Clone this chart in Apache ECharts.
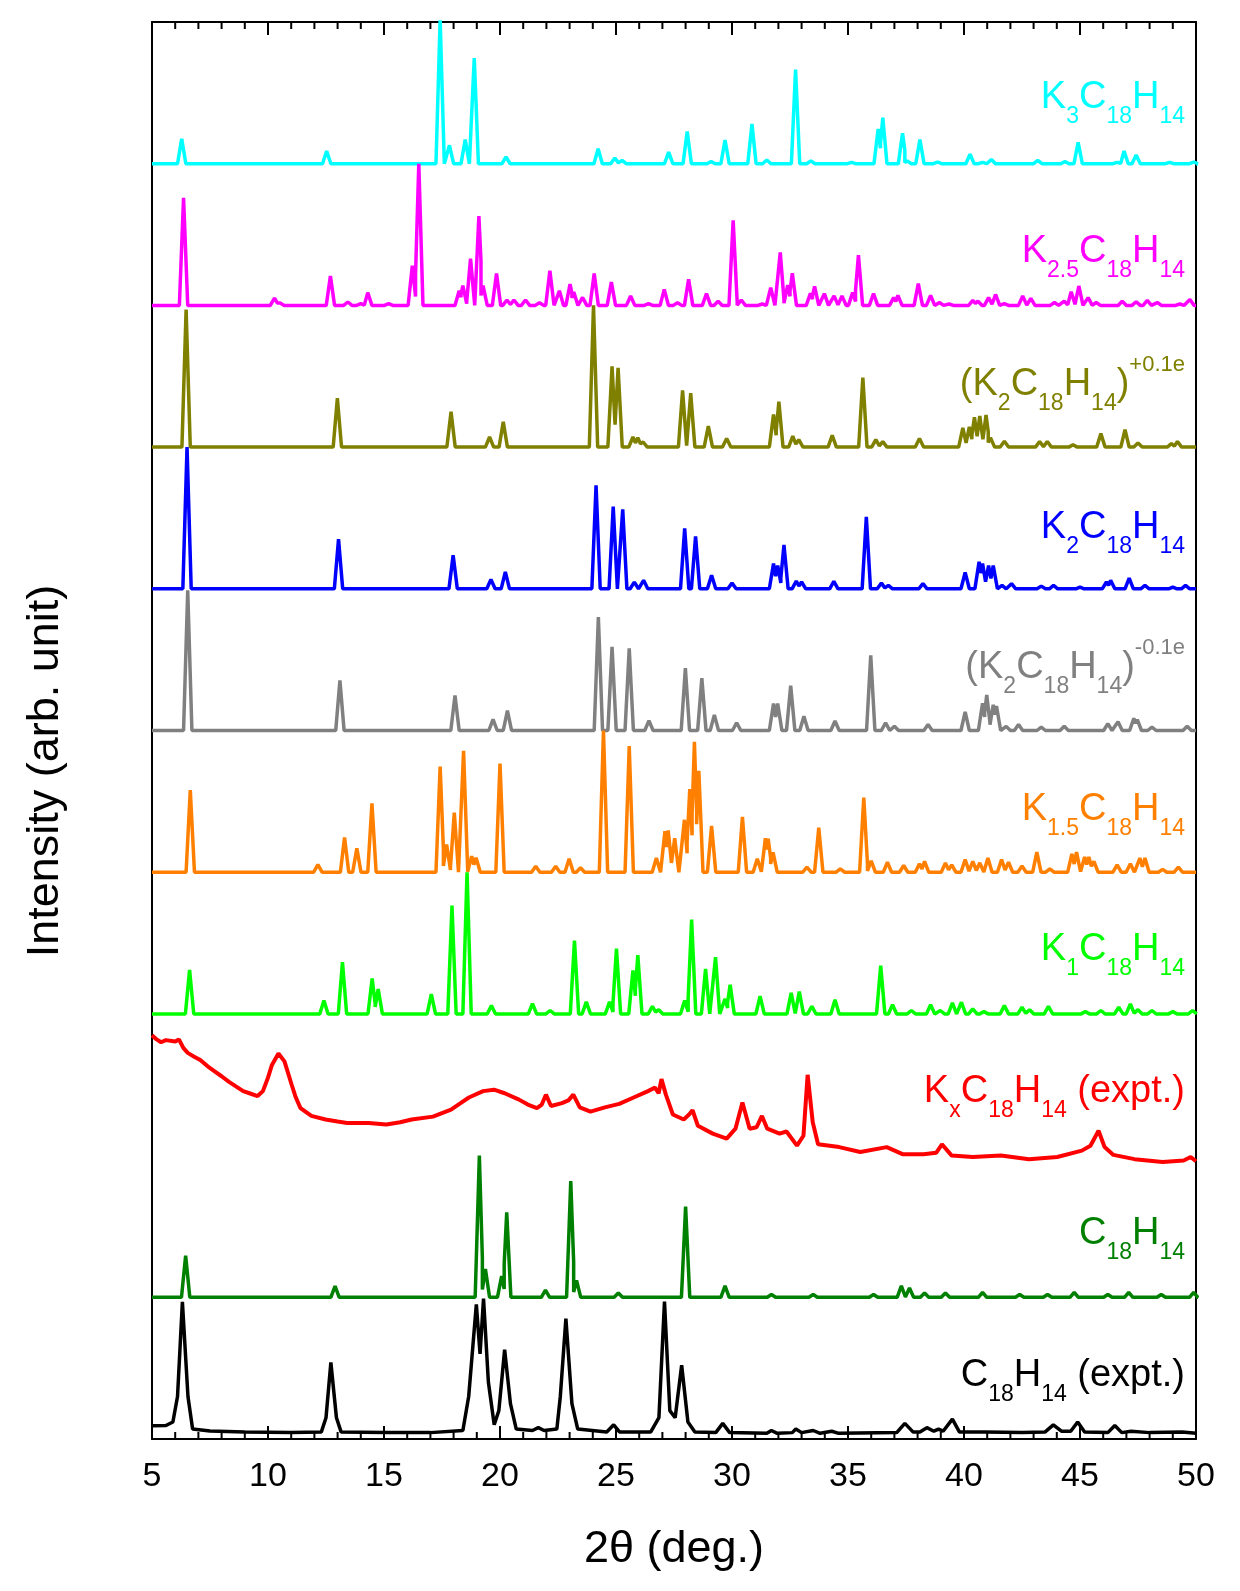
<!DOCTYPE html>
<html>
<head>
<meta charset="utf-8">
<script src="https://cdn.jsdelivr.net/npm/echarts@6/dist/echarts.min.js"></script>
<style>
html, body { margin: 0; padding: 0; background: #fff; }
#chart { width: 1240px; height: 1591px; }
</style>
</head>
<body>
<div id="chart"></div>
<script>
// x axis (2theta) range and tick steps
const xMin = 5
const xMax = 50
const xStep = 5
const minorStep = 1
const yMin = 0
const yMax = 1000

// peaks: [2theta, relative height]
const k3Peaks = [[6.28, 17.6], [12.53, 9], [17.42, 102], [17.82, 13], [18.5, 17], [18.89, 74.6], [20.26, 4.7], [24.23, 10.6], [24.95, 4], [25.26, 2.4], [27.27, 8.2], [28.07, 22.8], [29.1, 1.5], [29.7, 16.7], [30.86, 28], [31.5, 2.6], [32.74, 66.5], [33.4, 2], [35.15, 1], [36.3, 24.6], [36.5, 32.5], [37.35, 21.5], [37.55, 2], [38.1, 17], [38.86, 1.2], [40.26, 6.7], [40.8, 1], [41.18, 3], [43.18, 2.4], [44.35, 1.5], [44.92, 15], [46.6, 1], [46.9, 9], [47.42, 6.2], [48.86, 1], [49.9, 1.2]]
const k25Peaks = [[6.36, 76], [10.28, 5.2], [10.52, 1.7], [12.69, 20.7], [13.44, 2.4], [14.0, 1.2], [14.3, 9], [15.2, 1.2], [16.22, 28], [16.5, 100], [18.24, 10.3], [18.4, 14], [18.73, 33], [19.09, 63], [19.27, 14], [19.85, 22.6], [20.3, 3.8], [20.6, 3.8], [21.1, 3.8], [21.7, 1.9], [22.15, 24.4], [22.56, 10.3], [23.02, 15], [23.18, 9.4], [23.56, 5.6], [24.06, 22.6], [24.8, 16.5], [25.63, 6.6], [26.4, 1.2], [27.08, 11.3], [27.65, 1.9], [28.13, 18.4], [28.9, 8.3], [29.4, 3], [30.05, 60], [30.4, 3.8], [31.3, 1], [31.67, 12.5], [32.08, 37.4], [32.4, 14.4], [32.6, 22.7], [33.38, 8.6], [33.56, 13.4], [33.98, 8.3], [34.4, 6.7], [34.74, 6.7], [35.2, 9], [35.45, 35.5], [36.1, 8.3], [36.97, 5.5], [37.15, 7.1], [38.03, 15.4], [38.56, 7.1], [38.94, 2], [39.36, 1], [40.38, 3.5], [40.6, 3], [41.06, 5.5], [41.36, 7.7], [41.74, 1.2], [42.53, 6.7], [42.88, 5], [43.9, 2], [44.32, 3], [44.62, 9.6], [44.95, 13.7], [45.35, 5.5], [45.7, 2], [46.82, 3], [47.42, 2.6], [47.9, 3.5], [48.33, 2], [49.3, 1], [49.74, 4.2]]
const k2PlusPeaks = [[6.47, 97], [12.99, 34.6], [17.89, 25], [19.55, 7.1], [20.14, 17.9], [24.03, 100], [24.83, 57], [25.09, 56], [25.73, 7.1], [25.94, 6.6], [26.17, 3.6], [27.87, 40], [28.22, 38], [28.98, 14.8], [29.77, 6], [31.79, 23], [32.02, 32], [32.62, 7.7], [32.88, 5.2], [34.32, 8.3], [35.64, 49], [36.2, 5.2], [36.5, 3.9], [38.08, 6], [39.95, 13.5], [40.23, 14.3], [40.45, 21], [40.68, 22], [40.95, 22.7], [41.14, 6.7], [41.74, 4.2], [43.26, 4], [43.59, 4], [44.7, 1.6], [45.9, 9.5], [46.94, 12.3], [47.5, 2.9], [48.94, 2.4], [49.2, 4]]
const k2Peaks = [[6.51, 100], [13.04, 35], [17.98, 23.7], [19.61, 6.6], [20.23, 12], [24.14, 73], [24.88, 58], [25.29, 56], [25.79, 4.7], [26.19, 6], [27.96, 42.6], [28.43, 37], [29.12, 9.6], [30.0, 4], [31.79, 17.8], [31.97, 16.4], [32.24, 31], [32.77, 5.5], [33.0, 4.8], [34.39, 5.2], [35.79, 50.7], [36.44, 4], [36.74, 2.4], [38.23, 3.6], [40.05, 11.6], [40.65, 19], [40.8, 17.8], [41.06, 16.4], [41.26, 16.4], [41.64, 2.4], [42.05, 3.6], [43.33, 1.9], [43.86, 2.4], [45.0, 1.2], [46.14, 4.8], [46.32, 6], [47.12, 7.6], [47.8, 2.4], [49.0, 1.2], [49.55, 2.4]]
const k2MinusPeaks = [[6.54, 99], [13.1, 35.4], [18.06, 24.8], [19.7, 7.8], [20.32, 14], [24.24, 80], [24.83, 59], [25.57, 58], [26.42, 7], [27.99, 44], [28.7, 37], [29.24, 11], [30.2, 5.5], [31.79, 19], [31.97, 19], [32.53, 31.7], [33.1, 10], [34.44, 6.7], [35.98, 53], [36.62, 5.5], [37.0, 3], [38.45, 4.2], [40.05, 13.2], [40.8, 19.2], [40.98, 25], [41.26, 18.2], [41.4, 17.3], [41.82, 2.9], [42.35, 4.2], [43.33, 2.4], [44.32, 3], [46.2, 4.8], [46.64, 6.1], [47.32, 8.6], [47.47, 7.7], [48.1, 2.4], [49.62, 3]]
const k15Peaks = [[6.65, 58], [12.15, 5.4], [13.3, 24.6], [13.83, 16.8], [14.48, 48.5], [17.42, 74.5], [17.7, 19.6], [18.03, 42], [18.43, 85.6], [18.78, 11.3], [18.97, 10.2], [20.0, 76.6], [21.54, 4.2], [22.4, 4.2], [22.98, 9.5], [23.47, 3.1], [24.46, 100], [25.57, 89], [26.74, 10], [27.11, 29], [27.25, 29.5], [27.53, 24], [27.95, 37], [28.18, 58.6], [28.38, 92], [28.57, 71.6], [29.12, 32.7], [30.45, 39], [31.09, 9.5], [31.44, 24], [31.56, 23.7], [31.77, 14], [33.23, 3.5], [33.74, 31.5], [34.67, 2.4], [35.68, 52.6], [36.0, 8], [36.7, 7], [37.4, 4.7], [38.08, 6], [38.3, 7.6], [39.2, 6.6], [39.47, 5.2], [40.05, 9], [40.38, 7.6], [40.68, 6.6], [41.03, 10], [41.62, 9], [41.92, 7], [42.5, 4.3], [43.14, 14.2], [43.7, 2.4], [44.65, 13], [44.85, 14.2], [45.2, 10.7], [45.38, 10.7], [45.6, 7.6], [46.6, 5.2], [47.17, 6], [47.58, 10], [47.8, 10], [48.56, 2], [49.24, 3.5]]
const k1Peaks = [[6.62, 31], [12.41, 9.4], [13.21, 36.5], [14.49, 25], [14.75, 17.6], [17.04, 14], [17.93, 76.5], [18.58, 100], [19.63, 6], [21.4, 7.3], [22.16, 2.4], [23.21, 51.8], [23.72, 8.5], [24.72, 8.5], [25.02, 46], [25.73, 30.6], [25.94, 41.4], [26.57, 5.4], [26.84, 3], [27.96, 9.4], [28.26, 66.6], [28.86, 31.8], [29.29, 40], [29.7, 10.6], [29.92, 20.5], [31.21, 12.5], [32.55, 14.8], [32.9, 15.8], [33.44, 5.4], [34.44, 9.9], [36.41, 34], [36.92, 6.4], [37.73, 2.4], [38.56, 6.4], [38.98, 2.4], [39.5, 7.8], [39.89, 8.2], [40.38, 3.5], [40.86, 1.6], [41.74, 5.9], [42.5, 4.7], [42.83, 3], [43.64, 5.4], [45.23, 1.6], [45.9, 2.4], [46.67, 4.7], [47.17, 7], [47.5, 3], [48.1, 2.4], [49.0, 1.6], [49.85, 2.4]]
const c18Peaks = [[6.45, 29.4], [12.89, 7.9], [19.11, 100], [19.37, 20], [20.07, 15], [20.29, 60], [21.96, 5], [23.05, 82], [23.3, 12], [25.1, 3], [28.0, 64], [29.7, 8], [31.7, 2], [33.5, 2], [36.1, 2], [37.3, 8], [37.65, 6.5], [38.3, 3], [39.2, 3], [40.8, 3.5], [42.4, 2], [43.6, 2], [44.75, 3.5], [46.2, 2], [47.1, 3.5], [48.5, 2], [49.9, 3.5]]

// vertical offsets of the simulated patterns (same order as above)
const simOffsets = [900, 800, 700, 600, 500, 400, 300, 100]

// measured patterns, read point by point: [2theta, intensity incl. offset]
const kxExpt = [[5.0, 285], [5.2, 282], [5.39, 280], [5.6, 281.5], [6.0, 280.5], [6.16, 282], [6.35, 276], [6.54, 272.5], [6.8, 270], [7.08, 267.5], [7.4, 263], [7.7, 259.5], [8.0, 256], [8.32, 252], [8.6, 249], [8.93, 245.5], [9.2, 244], [9.55, 242], [9.78, 245.5], [10.0, 255], [10.17, 264], [10.45, 272], [10.71, 266.5], [11.02, 250], [11.2, 241], [11.4, 233.5], [11.87, 228], [12.48, 225.5], [13.0, 224], [13.41, 223], [14.34, 223], [15.1, 222], [15.7, 223.5], [16.19, 225.5], [17.11, 227.5], [17.89, 232.5], [18.3, 237], [18.66, 241], [19.27, 245.5], [19.74, 246.5], [20.2, 244], [20.82, 239.5], [21.2, 236], [21.59, 233.5], [21.8, 236], [21.98, 243], [22.2, 235], [22.67, 237], [22.95, 239], [23.16, 243], [23.44, 234], [23.9, 231], [24.52, 234], [25.14, 236.5], [25.76, 241], [26.38, 245.5], [26.68, 248], [26.84, 244], [26.96, 254], [27.15, 243], [27.45, 229], [27.92, 225.5], [28.15, 229], [28.3, 232], [28.53, 221], [29.17, 215.5], [29.77, 212], [30.15, 219], [30.45, 237.5], [30.76, 219], [31.06, 220], [31.29, 228], [31.52, 219], [32.05, 215.5], [32.35, 217], [32.8, 207], [33.08, 214], [33.26, 257], [33.48, 223.5], [33.71, 208], [34.62, 206], [35.53, 202.5], [36.67, 206], [37.35, 201], [38.26, 201], [38.8, 202], [39.05, 208], [39.47, 200], [40.38, 199], [41.59, 200], [42.8, 197.5], [44.02, 199], [45.08, 203.5], [45.45, 207], [45.8, 217.5], [46.06, 206], [46.44, 200.5], [47.35, 197.5], [48.56, 195.5], [49.47, 196.5], [49.77, 199], [50, 196]]
const c18Expt = [[5.0, 9.3], [5.6, 9.5], [5.9, 12], [6.1, 30], [6.31, 96.8], [6.55, 30], [6.75, 7], [7.5, 5.7], [9, 5], [11, 4.5], [12.3, 5], [12.5, 15], [12.71, 54], [12.95, 15], [13.15, 5], [15, 4.5], [17, 4.5], [18.4, 6], [18.65, 30], [18.98, 95], [19.14, 60], [19.29, 99], [19.5, 40], [19.75, 10], [19.95, 20], [20.2, 63], [20.45, 25], [20.7, 7], [21.4, 6], [21.65, 8], [21.9, 6], [22.45, 7], [22.6, 30], [22.84, 85], [23.1, 25], [23.35, 7], [24.6, 5], [24.9, 10], [25.15, 5], [26.5, 5], [26.85, 15], [27.09, 97], [27.32, 20], [27.55, 15], [27.83, 52], [28.1, 12], [28.4, 5], [29.3, 4.5], [29.6, 11], [29.9, 4.5], [31.5, 4], [31.7, 6], [31.95, 4], [32.6, 4.5], [32.75, 7], [33.0, 4.5], [33.5, 6], [33.8, 4], [34.3, 5.5], [34.6, 4], [37.1, 4.5], [37.45, 11], [37.8, 5], [38.1, 5], [38.4, 8], [38.7, 5.5], [38.9, 7], [39.1, 5.5], [39.5, 14], [39.8, 5], [40.9, 5], [42.5, 4.5], [43.5, 5], [43.85, 10], [44.2, 5.5], [44.6, 5.5], [44.9, 12], [45.2, 5], [46.2, 4.5], [46.5, 9.5], [46.8, 4.5], [47.2, 5.5], [48, 4.5], [49.4, 5], [50, 4]]

const simColors = ['#00ffff', '#ff00ff', '#808000', '#0000ff', '#808080', '#ff8000', '#00ff00', '#008000']
const kxColor = '#ff0000'
const exptColor = '#000000'

// labels: rich text with subscripts (s) and superscripts (p)
const labelTexts = [
  '{m|K}{s|3}{m|C}{s|18}{m|H}{s|14}',
  '{m|K}{s|2.5}{m|C}{s|18}{m|H}{s|14}',
  '{m|(K}{s|2}{m|C}{s|18}{m|H}{s|14}{m|)}{p|+0.1e}',
  '{m|K}{s|2}{m|C}{s|18}{m|H}{s|14}',
  '{m|(K}{s|2}{m|C}{s|18}{m|H}{s|14}{m|)}{p|-0.1e}',
  '{m|K}{s|1.5}{m|C}{s|18}{m|H}{s|14}',
  '{m|K}{s|1}{m|C}{s|18}{m|H}{s|14}',
  '{m|K}{s|x}{m|C}{s|18}{m|H}{s|14}{m| (expt.)}',
  '{m|C}{s|18}{m|H}{s|14}',
  '{m|C}{s|18}{m|H}{s|14}{m| (expt.)}'
]
const labelColors = ['#00ffff', '#ff00ff', '#808000', '#0000ff', '#808080', '#ff8000', '#00ff00', '#ff0000', '#008000', '#000000']
const labelY = [98, 252, 385, 528, 668, 810, 950, 1092, 1234, 1376]

const FONT = '"Liberation Sans", Arial, Helvetica, sans-serif'
const HALF_WIDTH = 0.18
// tick lengths in y units (1 unit is about 1.42 px here)
const MAJOR_LEN = 9.2
const MINOR_LEN = 5

// turn a peak list into a polyline on its baseline
function profile (peaks, base) {
  const pts = [[xMin, base]]
  peaks.forEach(function (p, i) {
    const prev = peaks[i - 1]
    const next = peaks[i + 1]
    const lo = prev ? Math.max(p[0] - HALF_WIDTH, (prev[0] + p[0]) / 2) : p[0] - HALF_WIDTH
    const hi = next ? Math.min(p[0] + HALF_WIDTH, (p[0] + next[0]) / 2) : p[0] + HALF_WIDTH
    pts.push([lo, base + p[1] * (1 - (p[0] - lo) / HALF_WIDTH)])
    pts.push([p[0], base + p[1]])
    pts.push([hi, base + p[1] * (1 - (hi - p[0]) / HALF_WIDTH)])
  })
  pts.push([xMax, base])
  return pts
}

function lineSeries (data, color, width) {
  return {
    type: 'line',
    data: data,
    symbol: 'none',
    lineStyle: { color: color, width: width || 3.5 },
    itemStyle: { color: color },
    emphasis: { disabled: true }
  }
}

const simPeaks = [k3Peaks, k25Peaks, k2PlusPeaks, k2Peaks, k2MinusPeaks, k15Peaks, k1Peaks, c18Peaks]
const series = simPeaks.map(function (pk, i) {
  return lineSeries(profile(pk, simOffsets[i]), simColors[i])
})
series.push(lineSeries(kxExpt, kxColor, 4))
series.push(lineSeries(c18Expt, exptColor, 3.5))

// inward ticks on the bottom and top frame as broken line segments
const tickData = []
for (let v = xMin; v <= xMax; v += minorStep) {
  const len = (v - xMin) % xStep === 0 ? MAJOR_LEN : MINOR_LEN
  tickData.push([v, yMin], [v, yMin + len], [v, '-'])
  tickData.push([v, yMax], [v, yMax - len], [v, '-'])
}
const tickSeries = lineSeries(tickData, '#000', 2)
tickSeries.connectNulls = false
tickSeries.lineStyle.cap = 'butt'
tickSeries.z = 3
series.push(tickSeries)

const labels = labelTexts.map(function (t, i) {
  const c = labelColors[i]
  return {
    type: 'text',
    x: 1185,
    y: labelY[i],
    z: 100,
    silent: true,
    style: {
      text: t,
      align: 'right',
      verticalAlign: 'middle',
      rich: {
        m: { fontSize: 38, fontFamily: FONT, fill: c },
        s: { fontSize: 23, fontFamily: FONT, fill: c, padding: [38, 0, 0, 0] },
        p: { fontSize: 22, fontFamily: FONT, fill: c, padding: [0, 0, 40, 0] }
      }
    }
  }
})
labels.push({
  type: 'text',
  x: 46,
  y: 771,
  z: 100,
  rotation: Math.PI / 2,
  silent: true,
  style: {
    text: 'Intensity (arb. unit)',
    fontSize: 45,
    fontFamily: FONT,
    fill: '#000',
    align: 'center',
    verticalAlign: 'middle'
  }
})

function xAxisFrame (pos, showLabel) {
  return {
    type: 'value',
    min: xMin,
    max: xMax,
    interval: xStep,
    position: pos,
    axisLine: { show: true, onZero: false, lineStyle: { color: '#000', width: 2 } },
    axisTick: { show: false },
    splitLine: { show: false },
    axisLabel: { show: showLabel, fontSize: 34, color: '#000', fontFamily: FONT, margin: 21 }
  }
}

function yAxisFrame (pos) {
  return {
    type: 'value',
    min: yMin,
    max: yMax,
    position: pos,
    axisLine: { show: true, onZero: false, lineStyle: { color: '#000', width: 2 } },
    axisTick: { show: false },
    axisLabel: { show: false },
    splitLine: { show: false }
  }
}

const bottomAxis = xAxisFrame('bottom', true)
bottomAxis.name = '2\u03b8 (deg.)'
bottomAxis.nameLocation = 'middle'
bottomAxis.nameGap = 88
bottomAxis.nameTextStyle = { fontSize: 45, color: '#000', fontFamily: FONT }

const chart = echarts.init(document.getElementById('chart'))
chart.setOption({
  animation: false,
  backgroundColor: '#fff',
  grid: { left: 152, right: 44, top: 22, bottom: 152 },
  xAxis: [bottomAxis, xAxisFrame('top', false)],
  yAxis: [yAxisFrame('left'), yAxisFrame('right')],
  series: series,
  graphic: labels
})
</script>
</body>
</html>
